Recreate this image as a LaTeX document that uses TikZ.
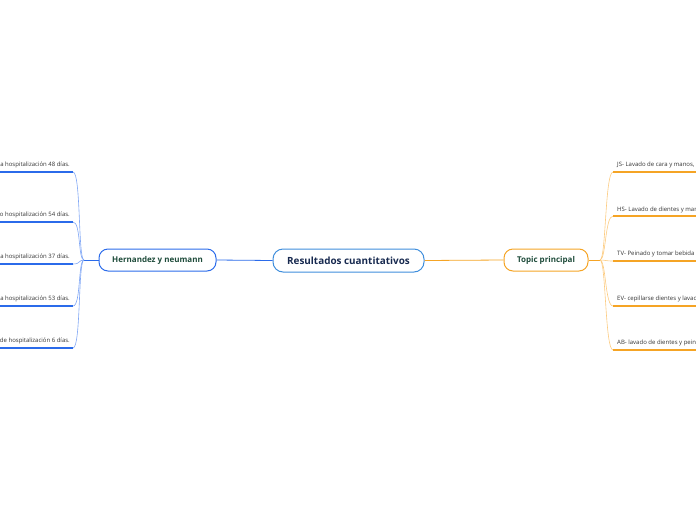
\documentclass[tikz,border=0pt]{standalone}
\usepackage{fontspec}
\setmainfont{Open Sans}
\definecolor{darkblue}{HTML}{2B6BEA}
\definecolor{paleblue}{HTML}{7FA6F5}
\definecolor{rootblue}{HTML}{3F8EDC}
\definecolor{orangeline}{HTML}{F5A425}
\definecolor{paleorange}{HTML}{FCCB80}
\definecolor{textgreen}{HTML}{1E4B3A}
\definecolor{rootnavy}{HTML}{17294F}
\definecolor{leaftext}{HTML}{333333}
\begin{document}
\begin{tikzpicture}[x=1pt,y=-1pt,
    topicbox/.style={draw,rounded corners=9pt,line width=1pt,inner sep=0pt,minimum height=22pt,
        font=\bfseries\fontsize{8}{9}\selectfont,text=textgreen},
    leaf/.style={inner sep=0pt,font=\fontsize{6}{7}\selectfont,text=leaftext},
    twig/.style={line width=0.6pt},
    underline/.style={line width=1.2pt}]
    \useasboundingbox (0,0) rectangle (696,520);
    \clip (0,0) rectangle (696,520);

    \node[topicbox,draw=rootblue,minimum width=151pt,minimum height=23pt,rounded corners=10pt,
        font=\bfseries\fontsize{9.9}{11}\selectfont,text=rootnavy] (root) at (348.5,260.5) {Resultados cuantitativos};
    \node[topicbox,draw=darkblue,minimum width=117pt] (hern) at (157.5,260) {Hernandez y neumann};
    \node[topicbox,draw=orangeline,minimum width=84pt] (topic) at (546,260) {Topic principal};

    \draw[darkblue,line width=0.8pt] (root.west) -- (hern.east);
    \draw[orangeline,line width=0.8pt] (root.east) -- (topic.west);

    % left side
    \coordinate (hj) at (84,260);
    \draw[darkblue,line width=0.8pt] (hern.west) -- (hj);
    \coordinate (l1) at (73,172);
    \coordinate (l2) at (73,222);
    \coordinate (l3) at (73,264);
    \coordinate (l4) at (73,306);
    \coordinate (l5) at (73,348);
    \draw[paleblue,twig] (hj) .. controls (78,260) and (81,172) .. (l1);
    \draw[paleblue,twig] (hj) .. controls (78,260) and (81,222) .. (l2);
    \draw[paleblue,twig] (hj) .. controls (78,260) and (81,264) .. (l3);
    \draw[paleblue,twig] (hj) .. controls (78,260) and (81,306) .. (l4);
    \draw[paleblue,twig] (hj) .. controls (78,260) and (81,348) .. (l5);
    \draw[darkblue,underline] (l1) -- (-5,172);
    \draw[darkblue,underline] (l2) -- (-5,222);
    \draw[darkblue,underline] (l3) -- (-5,264);
    \draw[darkblue,underline] (l4) -- (-5,306);
    \draw[darkblue,underline] (l5) -- (-5,348);
    \node[leaf,anchor=base east] (t1) at (70,166) {a hospitalización 48 días.};
    \node[leaf,anchor=base east] (t2) at (70,216) {o hospitalización 54 días.};
    \node[leaf,anchor=base east] (t3) at (70,258) {a hospitalización 37 días.};
    \node[leaf,anchor=base east] (t4) at (70,300) {a hospitalización 53 días.};
    \node[leaf,anchor=base east] (t5) at (70,342) {de hospitalización 6 días.};

    % right side
    \coordinate (tj) at (600,260);
    \draw[orangeline,line width=0.8pt] (topic.east) -- (tj);
    \coordinate (r1) at (613,172);
    \coordinate (r2) at (613,216);
    \coordinate (r3) at (613,261);
    \coordinate (r4) at (613,306);
    \coordinate (r5) at (613,350);
    \draw[paleorange,twig] (tj) .. controls (606,260) and (605,172) .. (r1);
    \draw[paleorange,twig] (tj) .. controls (606,260) and (605,216) .. (r2);
    \draw[paleorange,twig] (tj) .. controls (606,260) and (605,261) .. (r3);
    \draw[paleorange,twig] (tj) .. controls (606,260) and (605,306) .. (r4);
    \draw[paleorange,twig] (tj) .. controls (606,260) and (605,350) .. (r5);
    \draw[orangeline,underline] (r1) -- (700,172);
    \draw[orangeline,underline] (r2) -- (700,216);
    \draw[orangeline,underline] (r3) -- (700,261);
    \draw[orangeline,underline] (r4) -- (700,306);
    \draw[orangeline,underline] (r5) -- (700,350);
    \node[leaf,anchor=base west] (s1) at (617,166) {JS- Lavado de cara y manos,};
    \node[leaf,anchor=base west] (s2) at (617,211) {HS- Lavado de dientes y man};
    \node[leaf,anchor=base west] (s3) at (617,255) {TV- Peinado y tomar bebida};
    \node[leaf,anchor=base west] (s4) at (617,300) {EV- cepillarse dientes y lavac};
    \node[leaf,anchor=base west] (s5) at (617,344) {AB- lavado de dientes y pein};
\end{tikzpicture}
\end{document}
